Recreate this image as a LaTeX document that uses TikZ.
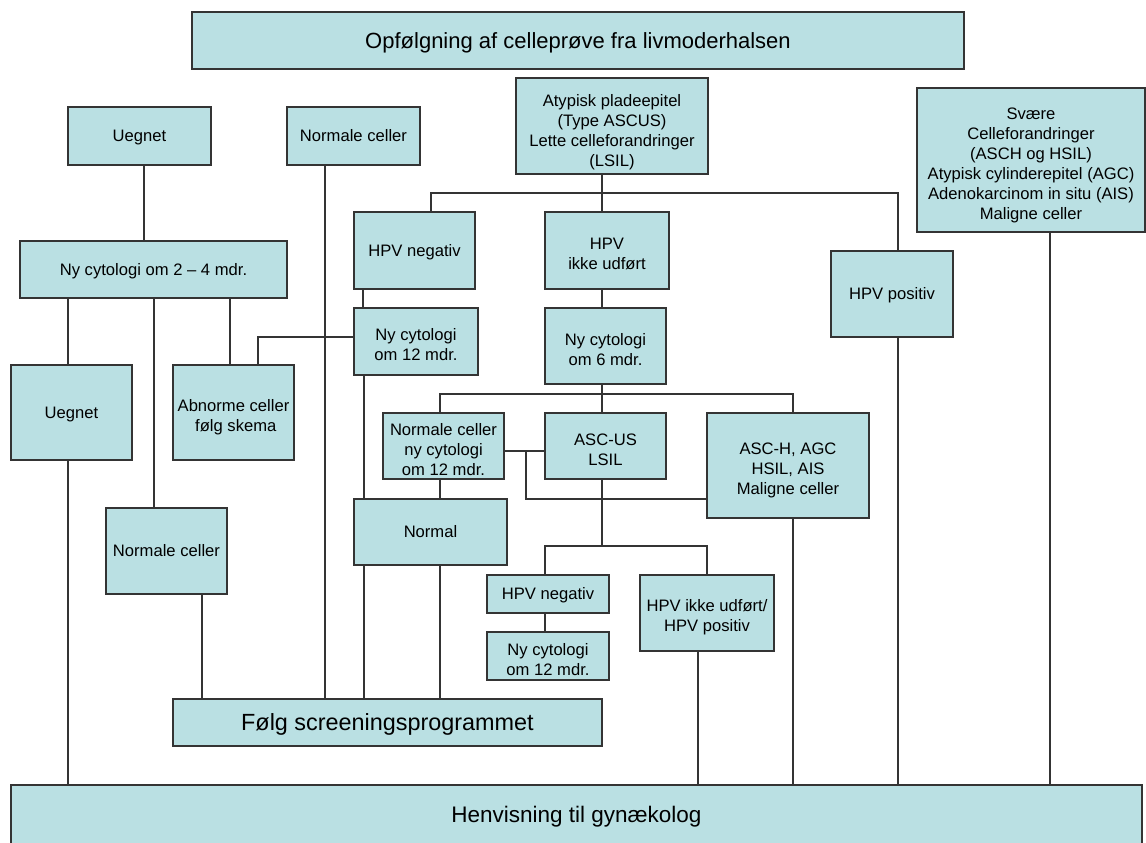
\documentclass[tikz,border=0pt]{standalone}
\usepackage{fontspec}
\setmainfont{Liberation Sans}
\usetikzlibrary{backgrounds}
\definecolor{boxfill}{RGB}{186,224,227}
\definecolor{edgec}{RGB}{52,52,52}
\tikzset{
  box/.style={draw=edgec, fill=boxfill, line width=1.2pt, inner sep=0pt, align=center,
    font=\fontsize{16.6}{20}\selectfont,
    execute at begin node={\rule{0pt}{0.905em}},
    execute at end node={\rule[-0.212em]{0pt}{0pt}}},
  multi/.style={execute at begin node={\rule{0pt}{#1pt}}},
  bigbox/.style={box, font=\fontsize{22.5}{26}\selectfont},
  conn/.style={draw=edgec, line width=1.25pt}
}
\begin{document}
\begin{tikzpicture}[x=1pt,y=-1pt]
\useasboundingbox (0,0) rectangle (1146,843);
% nodes
\node[bigbox, minimum width=772, minimum height=57, font=\fontsize{22}{26}\selectfont] (title) at (578,40.5) {Opfølgning af celleprøve fra livmoderhalsen};
\node[box, minimum width=143, minimum height=58] (uegnet1) at (139.5,136) {Uegnet};
\node[box, minimum width=133, minimum height=58] (normale1) at (353.5,136) {Normale celler};
\node[box, multi=84, minimum width=192, minimum height=96] (atyp) at (612,126) {Atypisk pladeepitel\\(Type ASCUS)\\Lette celleforandringer\\(LSIL)};
\node[box, multi=122, minimum width=228, minimum height=144] (svaere) at (1031,160) {Svære\\Celleforandringer\\(ASCH og HSIL)\\Atypisk cylinderepitel (AGC)\\Adenokarcinom in situ (AIS)\\Maligne celler};
\node[box, minimum width=121, minimum height=77] (hpvneg1) at (414.5,250.5) {HPV negativ};
\node[box, multi=42, minimum width=124, minimum height=77] (hpvikke) at (607,250.5) {HPV\\ikke udført};
\node[box, minimum width=122, minimum height=86] (hpvpos) at (892,294) {HPV positiv};
\node[box, minimum width=267, minimum height=57] (ny24) at (153.5,269.5) {Ny cytologi om 2 – 4 mdr.};
\node[box, minimum width=121, minimum height=95] (uegnet2) at (71.5,412.5) {Uegnet};
\node[box, multi=42, minimum width=121, minimum height=95] (abnorme) at (233.5,412.5) {Abnorme celler\\\ følg skema};
\node[box, multi=42, minimum width=124, minimum height=67] (ny12a) at (416,341.5) {Ny cytologi\\om 12 mdr.};
\node[box, multi=42, minimum width=121, minimum height=76] (ny6) at (605.5,346) {Ny cytologi\\om 6 mdr.};
\node[box, multi=62, minimum width=121, minimum height=66] (normny) at (443.5,446) {Normale celler\\ny cytologi\\om 12 mdr.};
\node[box, multi=42, minimum width=121, minimum height=66] (ascus) at (605.5,446) {ASC-US\\LSIL};
\node[box, multi=62, minimum width=162, minimum height=105] (asch) at (788,465.5) {ASC-H, AGC\\HSIL, AIS\\Maligne celler};
\node[box, minimum width=153, minimum height=66] (normal) at (430.5,532) {Normal};
\node[box, minimum width=121, minimum height=86] (normale2) at (166.5,551) {Normale celler};
\node[box, minimum width=122, minimum height=38] (hpvneg2) at (548,594) {HPV negativ};
\node[box, multi=42, minimum width=122, minimum height=48] (ny12b) at (548,656) {Ny cytologi\\om 12 mdr.};
\node[box, multi=40, minimum width=134, minimum height=76] (hpvikke2) at (707,613) {HPV ikke udført/\\HPV positiv};
\node[bigbox, minimum width=429, minimum height=47, font=\fontsize{23.4}{27}\selectfont] (folg) at (387.5,722.5) {Følg screeningsprogrammet};
\node[bigbox, minimum width=1131, minimum height=60] (henv) at (576.5,815) {Henvisning til gynækolog};
% junctions
\coordinate (j1) at (602,193);
\coordinate (j2) at (602,394);
\coordinate (j3) at (526,451);
\coordinate (j4) at (602,546);
% connectors
\begin{scope}[on background layer]
\path[conn] ([xshift=4.5]uegnet1.south) -- ([xshift=4.5]uegnet1.south |- ny24.north);
\path[conn] ([xshift=-3.5]uegnet2.north |- ny24.south) -- ([xshift=-3.5]uegnet2.north);
\path[conn] ([xshift=-12.5]normale2.north |- ny24.south) -- ([xshift=-12.5]normale2.north);
\path[conn] ([xshift=-3.5]abnorme.north |- ny24.south) -- ([xshift=-3.5]abnorme.north);
\path[conn] ([xshift=24.5]abnorme.north) |- ([yshift=4.5]ny12a.west);
\path[conn] ([xshift=-28.5]normale1.south) -- ([xshift=-28.5]normale1.south |- folg.north);
\path[conn] ([xshift=-3.5]uegnet2.south) -- ([xshift=-3.5]uegnet2.south |- henv.north);
\path[conn] ([xshift=35.5]normale2.south) -- ([xshift=35.5]normale2.south |- folg.north);
\path[conn] ([xshift=-10]atyp.south) -- ([xshift=-5]hpvikke.north);
\path[conn] ([xshift=16.5]hpvneg1.north) |- (j1) -| ([xshift=6]hpvpos.north);
\path[conn] ([xshift=-51.5]hpvneg1.south) -- ([xshift=-51.5]hpvneg1.south |- ny12a.north);
\path[conn] ([xshift=-52]ny12a.south) -- ([xshift=-52]ny12a.south |- folg.north);
\path[conn] ([xshift=-5]hpvikke.south) -- ([xshift=-3.5]ny6.north);
\path[conn] ([xshift=6]hpvpos.south) -- ([xshift=6]hpvpos.south |- henv.north);
\path[conn] ([xshift=19]svaere.south) -- ([xshift=19]svaere.south |- henv.north);
\path[conn] ([xshift=-3.5]ny6.south) -- ([xshift=-3.5]ascus.north);
\path[conn] ([xshift=-3.5]normny.north) |- (j2) -| ([xshift=5]asch.north);
\path[conn] ([yshift=-5]normny.east) -- ([yshift=-5]normny.east -| ascus.west);
\path[conn] (j3) |- ([yshift=-33.5]asch.west);
\path[conn] ([xshift=-3.5]normny.south) -- ([xshift=9.5]normal.north);
\path[conn] ([xshift=9.5]normal.south) -- ([xshift=9.5]normal.south |- folg.north);
\path[conn] ([xshift=5]asch.south) -- ([xshift=5]asch.south |- henv.north);
\path[conn] ([xshift=-3.5]ascus.south) -- (j4);
\path[conn] ([xshift=-3]hpvneg2.north) |- (j4) -| (hpvikke2.north);
\path[conn] ([xshift=-3]hpvneg2.south) -- ([xshift=-3]ny12b.north);
\path[conn] ([xshift=-9]hpvikke2.south) -- ([xshift=-9]hpvikke2.south |- henv.north);
\end{scope}
\end{tikzpicture}
\end{document}
